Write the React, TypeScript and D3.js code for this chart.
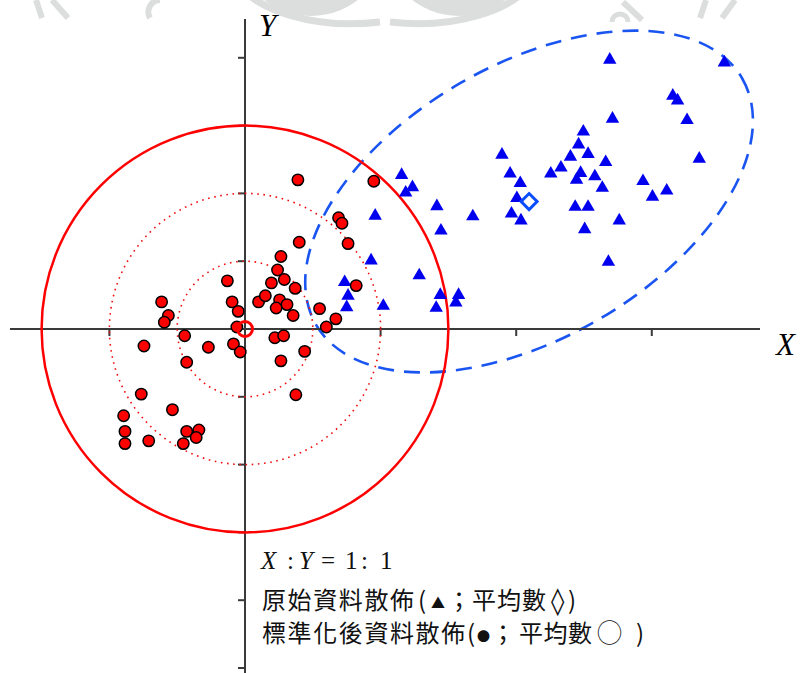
import React from "react";
import * as d3 from "d3";

// Original data (triangles), in axis units
const blueX = [2.31, 2.47, 2.37, 2.83, 3.36, 1.92, 2.89, 1.86, 2.57, 1.47, 2.88, 3.15, 3.11, 1.52, 1.50, 2.04, 2.82,
  5.38, 7.07, 6.31, 6.38, 5.42, 6.52, 4.99, 4.92, 3.79, 5.06, 4.80, 5.32, 6.70, 4.66, 3.91, 4.51, 4.95, 4.89, 5.16,
  4.06, 5.27, 5.87, 6.22, 6.01, 4.01, 4.87, 5.06, 3.93, 4.07, 5.52, 5.01, 5.36];
const blueY = [2.27, 2.09, 2.01, 1.81, 1.66, 1.67, 1.45, 1.01, 0.79, 0.69, 0.50, 0.50, 0.39, 0.49, 0.32, 0.34, 0.31,
  3.97, 3.93, 3.44, 3.37, 3.10, 3.08, 2.91, 2.72, 2.57, 2.58, 2.54, 2.46, 2.51, 2.38, 2.29, 2.29, 2.30, 2.20, 2.25,
  2.15, 2.08, 2.18, 2.04, 1.95, 1.93, 1.80, 1.80, 1.70, 1.60, 1.60, 1.47, 0.99];

// Standardized data (circles)
const redX = [-0.26, -1.23, -0.19, 0.20, -1.13, -1.19, -0.10, -0.12, -0.89, -1.49, -0.54, -0.17, -0.07, -0.86, -1.53,
  -1.07, -1.79, -1.77, -1.77, -1.42, -0.86, -0.68, -0.72, -0.91, 0.78, 1.90, 1.38, 1.43, 0.80, 1.52, 0.53, 0.48, 0.58,
  0.39, 0.74, 1.64, 0.30, 0.51, 0.46, 0.62, 0.71, 1.10, 1.34, 1.20, 0.44, 0.57, 0.88, 0.53, 0.75];
const redY = [0.71, 0.40, 0.40, 0.40, 0.20, 0.10, 0.26, 0.03, -0.10, -0.25, -0.27, -0.22, -0.34, -0.49, -0.96,
  -1.19, -1.28, -1.51, -1.69, -1.65, -1.51, -1.49, -1.60, -1.69, 2.20, 2.18, 1.64, 1.56, 1.28, 1.26, 1.07, 0.87, 0.73,
  0.68, 0.60, 0.64, 0.49, 0.43, 0.31, 0.36, 0.20, 0.30, 0.15, 0.03, -0.13, -0.10, -0.33, -0.47, -0.97];

const blueMean = [4.19, 1.88];
const redMean = [0, 0];
const ellipseAxes = [3.63, 2.02]; // semi-major, semi-minor
const ellipseAngle = 30; // degrees
const circleRadii = [1, 2];
const solidRadius = 3;
const xTicks = [-2, 0, 2, 4, 6];
const yTicks = [-5, -4, -3, -2, -1, 0, 1, 2, 3, 4];

const U = 67.8;
const OX = 245;
const OY = 329;

export default function App() {
  const x = d3.scaleLinear().domain([0, 1]).range([OX, OX + U]);
  const y = d3.scaleLinear().domain([0, 1]).range([OY, OY - U]);
  const k = x(1) - x(0);
  const tri = d3.symbol(d3.symbolTriangle, 78)() as string;
  const blueC = "#0000ee";
  const dashC = "#1a55f2";
  const axisC = "#3a3a3a";
  const wm = "#dcdede";

  const ecx = x(blueMean[0]);
  const ecy = y(blueMean[1]);
  const serif = "'Liberation Serif', 'DejaVu Serif', serif";
  const cjk = "'Noto Sans CJK TC', 'Noto Sans CJK SC', sans-serif";

  return (
    <svg width={800} height={673} style={{ position: "absolute", left: 0, top: 0, background: "#fff" }}>
      {/* faint watermark fragments at top */}
      <g fill={wm} stroke={wm}>
        <circle cx={311} cy={-60} r={76} stroke="none" />
        <circle cx={459} cy={-60} r={76} stroke="none" />
        <path d="M 236 -20 A 120 60 0 0 0 380 22" fill="none" strokeWidth={7} />
        <path d="M 533 -20 A 120 60 0 0 1 390 22" fill="none" strokeWidth={7} />
        <path d="M 36 0 L 42 18 M 52 0 L 68 18" fill="none" strokeWidth={6} />
        <path d="M 700 18 L 706 0 M 722 18 L 735 0" fill="none" strokeWidth={6} />
        <path d="M 623 2 L 642 20" fill="none" strokeWidth={6} />
        <path d="M 612 22 A 8 8 0 0 1 628 22" fill="none" strokeWidth={5} />
        <path d="M 160 0 A 12 12 0 0 0 150 18" fill="none" strokeWidth={6} />
      </g>

      {/* ellipse of original data */}
      <ellipse
        cx={ecx}
        cy={ecy}
        rx={ellipseAxes[0] * k}
        ry={ellipseAxes[1] * k}
        transform={`rotate(${-ellipseAngle},${ecx},${ecy})`}
        fill="none"
        stroke={dashC}
        strokeWidth={2.6}
        strokeDasharray="16 10"
      />

      {/* axes */}
      <line x1={10} x2={760} y1={y(0)} y2={y(0)} stroke={axisC} strokeWidth={2} />
      <line x1={x(0)} x2={x(0)} y1={19} y2={673} stroke={axisC} strokeWidth={2} />
      {xTicks.map((t) => (
        <line key={"xt" + t} x1={x(t)} x2={x(t)} y1={y(0)} y2={y(0) + 7} stroke={axisC} strokeWidth={2} />
      ))}
      {yTicks.map((t) => (
        <line key={"yt" + t} x1={x(0) - 7} x2={x(0)} y1={y(t)} y2={y(t)} stroke={axisC} strokeWidth={2} />
      ))}

      {/* circles */}
      {circleRadii.map((r) => (
        <circle key={"c" + r} cx={x(0)} cy={y(0)} r={r * k} fill="none" stroke="#f01010" strokeWidth={1.6} strokeDasharray="1.6 4.6" />
      ))}
      <circle cx={x(0)} cy={y(0)} r={solidRadius * k} fill="none" stroke="#f00" strokeWidth={2.5} />

      {/* blue triangles */}
      {blueX.map((v, i) => (
        <path key={"b" + i} d={tri} transform={`translate(${x(v)},${y(blueY[i])})`} fill={blueC} />
      ))}
      {/* blue mean diamond */}
      <path
        d={`M ${ecx} ${ecy - 8} L ${ecx + 8} ${ecy} L ${ecx} ${ecy + 8} L ${ecx - 8} ${ecy} Z`}
        fill="none"
        stroke="#0a4cff"
        strokeWidth={3}
      />

      {/* red points */}
      {redX.map((v, i) => (
        <circle key={"r" + i} cx={x(v)} cy={y(redY[i])} r={5.7} fill="#f00" stroke="#000" strokeWidth={1.5} />
      ))}
      <circle cx={x(redMean[0])} cy={y(redMean[1])} r={7.5} fill="none" stroke="#f00" strokeWidth={3} />

      {/* axis labels */}
      <text x={259} y={36} fontFamily={serif} fontStyle="italic" fontSize={31}>Y</text>
      <text x={776} y={355} fontFamily={serif} fontStyle="italic" fontSize={31}>X</text>

      {/* notes */}
      <g fontFamily={serif} fontSize={25} fill="#111">
        <text x={261} y={569} fontStyle="italic">X</text>
        <text x={287} y={569}>:</text>
        <text x={299} y={569} fontStyle="italic">Y</text>
        <text x={321} y={569}>=</text>
        <text x={345} y={569}>1</text>
        <text x={361} y={569}>:</text>
        <text x={380} y={569}>1</text>
      </g>
      <g fontFamily={cjk} fontSize={24} fill="#111">
        <text x={262} y={609} letterSpacing={1.6}>原始資料散佈</text>
        <text x={418} y={609}>(</text>
        <text x={431} y={608} fontSize={14}>▲</text>
        <text x={447} y={609}>；</text>
        <text x={472} y={609} letterSpacing={1}>平均數</text>
        <text x={551} y={610} fontFamily="'DejaVu Sans', sans-serif" fontSize={27}>◊</text>
        <text x={568} y={609}>)</text>
        <text x={262} y={642} letterSpacing={1.6}>標準化後資料散佈</text>
        <text x={467} y={642}>(</text>
        <text x={477} y={641} fontSize={13}>●</text>
        <text x={491} y={642}>；</text>
        <text x={519} y={642} letterSpacing={0.5}>平均數</text>
        <text x={597} y={642} fontSize={25}>◯</text>
        <text x={636} y={642}>)</text>
      </g>
    </svg>
  );
}
